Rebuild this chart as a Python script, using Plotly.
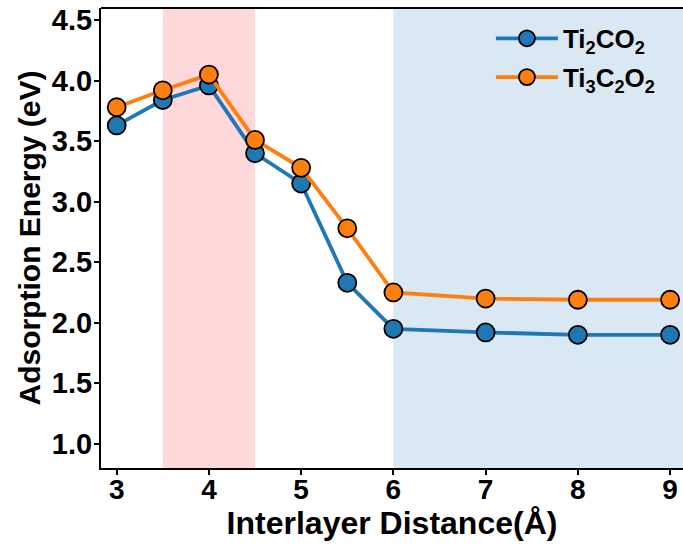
import plotly.graph_objects as go

distance = [3, 3.5, 4, 4.5, 5, 5.5, 6, 7, 8, 9]
ti2co2 = [3.63, 3.84, 3.96, 3.40, 3.15, 2.33, 1.95, 1.92, 1.90, 1.90]
ti3c2o2 = [3.78, 3.92, 4.05, 3.51, 3.28, 2.78, 2.25, 2.20, 2.19, 2.19]
names = ["Ti<sub>2</sub>CO<sub>2</sub>", "Ti<sub>3</sub>C<sub>2</sub>O<sub>2</sub>"]
colors = ["#1f77b4", "#ff7f0e"]
xticks = [3, 4, 5, 6, 7, 8, 9]
yticks = [1.0, 1.5, 2.0, 2.5, 3.0, 3.5, 4.0, 4.5]
xrange_ = [2.83, 9.14]
yrange_ = [0.8, 4.6]

font_family = "Liberation Sans, Arial, sans-serif"

fig = go.Figure()
fig.add_vrect(x0=3.5, x1=4.5, fillcolor="#ffd9d9", line_width=0, layer="below")
fig.add_vrect(x0=6, x1=xrange_[1], fillcolor="#d9e8f3", line_width=0, layer="below")

for i, (ys, name, c) in enumerate(zip([ti2co2, ti3c2o2], names, colors)):
    fig.add_trace(go.Scatter(
        x=distance, y=ys, name=name, mode="lines+markers", legendgroup=str(i),
        line=dict(color=c, width=3.8),
        marker=dict(size=18, color=c, line=dict(color="black", width=1.8)),
    ))

fig.add_shape(type="line", xref="paper", yref="paper", x0=0, x1=1, y0=1, y1=1,
              line=dict(color="black", width=2))

fig.update_layout(
    width=683, height=549,
    margin=dict(l=101, r=0, t=8, b=81),
    plot_bgcolor="white", paper_bgcolor="white",
    font=dict(family=font_family, color="black"),
    showlegend=True,
    legend=dict(x=0.67, y=0.985, xanchor="left", yanchor="top",
                bgcolor="rgba(0,0,0,0)", font=dict(size=26, family=font_family, weight="bold"),
                itemwidth=62, tracegroupgap=2, traceorder="grouped"),
    xaxis=dict(range=xrange_, tickvals=xticks, showgrid=False, zeroline=False,
               showline=True, linecolor="black", linewidth=2,
               ticks="outside", ticklen=5, tickwidth=2, tickcolor="black",
               ticklabelstandoff=-10,
               tickfont=dict(size=28, family=font_family, weight="bold"),
               title=dict(text="Interlayer Distance(Å)", standoff=0,
                          font=dict(size=32, family=font_family, weight="bold"))),
    yaxis=dict(range=yrange_, tickvals=yticks, tickformat=".1f",
               showgrid=False, zeroline=False,
               showline=True, linecolor="black", linewidth=2,
               ticks="outside", ticklen=5, tickwidth=2, tickcolor="black",
               ticklabelstandoff=-4,
               tickfont=dict(size=29, family=font_family, weight="bold"),
               title=dict(text="Adsorption Energy (eV)", standoff=2,
                          font=dict(size=30, family=font_family, weight="bold"))),
)

fig.write_html("out.html", config={"displayModeBar": False},
               post_script="document.body.style.margin='0px';")
